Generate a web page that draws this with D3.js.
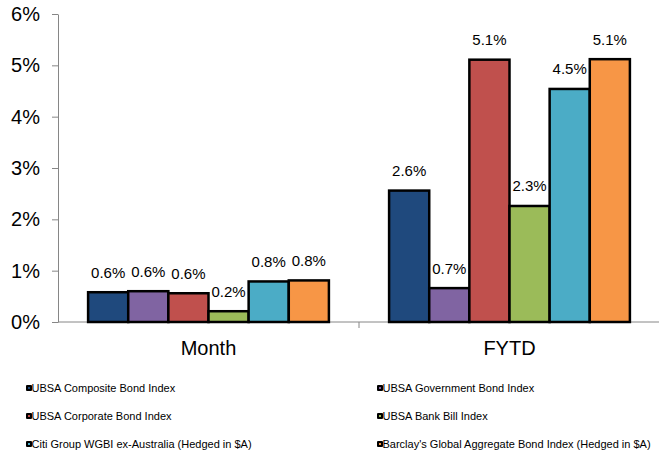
<!DOCTYPE html>
<html lang="en">
<head>
	<meta charset="UTF-8">
	<title>Bond index returns</title>
	<script src="https://d3js.org/d3.v7.min.js"></script>
	<style>
		html, body {
			margin: 0;
			padding: 0;
			background: #fff;
		}
		svg text {
			font-family: 'Liberation Sans', Arial, sans-serif;
			fill: #000;
		}
		.axis path, .axis line {
			stroke: #868686;
			stroke-width: 1px;
		}
		.axis text {
			font-size: 20px;
		}
		.barLabel {
			font-size: 15px;
			text-anchor: middle;
		}
		.legendText {
			font-size: 11px;
		}
	</style>
</head>
<body>
	<div id="chart"></div>

	<script>
	// data
	var categories = ['Month', 'FYTD'];

	var seriesNames = [
		'UBSA Composite Bond Index',
		'UBSA Government Bond Index',
		'UBSA Corporate Bond Index',
		'UBSA Bank Bill Index',
		'Citi Group WGBI ex-Australia (Hedged in $A)',
		"Barclay's Global Aggregate Bond Index (Hedged in $A)"
	];

	var seriesColors = ['#1f497d', '#8064a2', '#c0504d', '#9bbb59', '#4bacc6', '#f79646'];

	// values in %, one per series
	var monthValues = [0.58, 0.60, 0.56, 0.21, 0.79, 0.81];
	var fytdValues = [2.56, 0.66, 5.11, 2.26, 4.54, 5.12];

	var yTicks = [0, 1, 2, 3, 4, 5, 6];

	var width = 659,
	    height = 452;

	var margin = {top: 14, right: 0, left: 58, bottom: 130};

	var svg = d3.select('#chart')
		.append('svg')
		.attr('width', width)
		.attr('height', height);

	var x0 = d3.scaleBand()
		.domain(categories)
		.range([margin.left, 660]);

	var x1 = d3.scaleBand()
		.domain(d3.range(seriesNames.length))
		.range([0, x0.bandwidth()])
		.paddingOuter(0.75);

	var y = d3.scaleLinear()
		.domain([0, 6])
		.range([322, margin.top]);

	// y axis
	var yAxis = svg.append('g')
		.attr('class', 'axis')
		.attr('transform', 'translate(' + margin.left + ',0)')
		.call(d3.axisLeft(y)
			.tickValues(yTicks)
			.tickSize(6)
			.tickSizeOuter(0)
			.tickPadding(12)
			.tickFormat(function(d) { return d + '%'; }));

	// x axis (category divider ticks)
	var xAxis = svg.append('g')
		.attr('class', 'axis')
		.attr('transform', 'translate(0,' + y(0) + ')');

	xAxis.append('line')
		.attr('x1', margin.left)
		.attr('x2', width)
		.attr('y1', 0)
		.attr('y2', 0);

	xAxis.selectAll('.divTick')
		.data(categories.slice(1))
		.enter().append('line')
		.attr('class', 'divTick')
		.attr('x1', function(d) { return x0(d); })
		.attr('x2', function(d) { return x0(d); })
		.attr('y1', 0)
		.attr('y2', 6);

	xAxis.selectAll('.catLabel')
		.data(categories)
		.enter().append('text')
		.attr('class', 'catLabel')
		.attr('x', function(d) { return x0(d) + x0.bandwidth() / 2; })
		.attr('y', 33)
		.attr('text-anchor', 'middle')
		.style('font-size', '20px')
		.text(function(d) { return d; });

	// bars
	var catData = [monthValues, fytdValues];

	var groups = svg.selectAll('.cat')
		.data(categories)
		.enter().append('g')
		.attr('class', 'cat')
		.attr('transform', function(d) { return 'translate(' + x0(d) + ',0)'; });

	groups.selectAll('rect')
		.data(function(d, i) { return catData[i]; })
		.enter().append('rect')
		.attr('x', function(d, i) { return x1(i); })
		.attr('width', x1.bandwidth())
		.attr('y', function(d) { return y(d); })
		.attr('height', function(d) { return y(0) - y(d); })
		.attr('fill', function(d, i) { return seriesColors[i]; })
		.attr('stroke', '#000')
		.attr('stroke-width', 2.5);

	groups.selectAll('.barLabel')
		.data(function(d, i) { return catData[i]; })
		.enter().append('text')
		.attr('class', 'barLabel')
		.attr('x', function(d, i) { return x1(i) + x1.bandwidth() / 2; })
		.attr('y', function(d) { return y(d) - 14.5; })
		.text(function(d) { return d3.format('.1f')(d) + '%'; });

	// legend
	var legendCols = [26, 377],
	    legendRows = [388, 416, 444];

	var legend = svg.selectAll('.legendItem')
		.data(seriesNames)
		.enter().append('g')
		.attr('class', 'legendItem')
		.attr('transform', function(d, i) {
			return 'translate(' + legendCols[i % 2] + ',' + legendRows[Math.floor(i / 2)] + ')';
		});

	legend.append('rect')
		.attr('x', 0)
		.attr('y', -3)
		.attr('width', 6)
		.attr('height', 6)
		.attr('rx', 1)
		.attr('fill', '#000');

	legend.append('rect')
		.attr('x', 2)
		.attr('y', -1)
		.attr('width', 2)
		.attr('height', 2)
		.attr('fill', function(d, i) { return seriesColors[i]; });

	legend.append('text')
		.attr('class', 'legendText')
		.attr('x', 5.5)
		.attr('y', 4)
		.text(function(d) { return d; });
	</script>
</body>
</html>
